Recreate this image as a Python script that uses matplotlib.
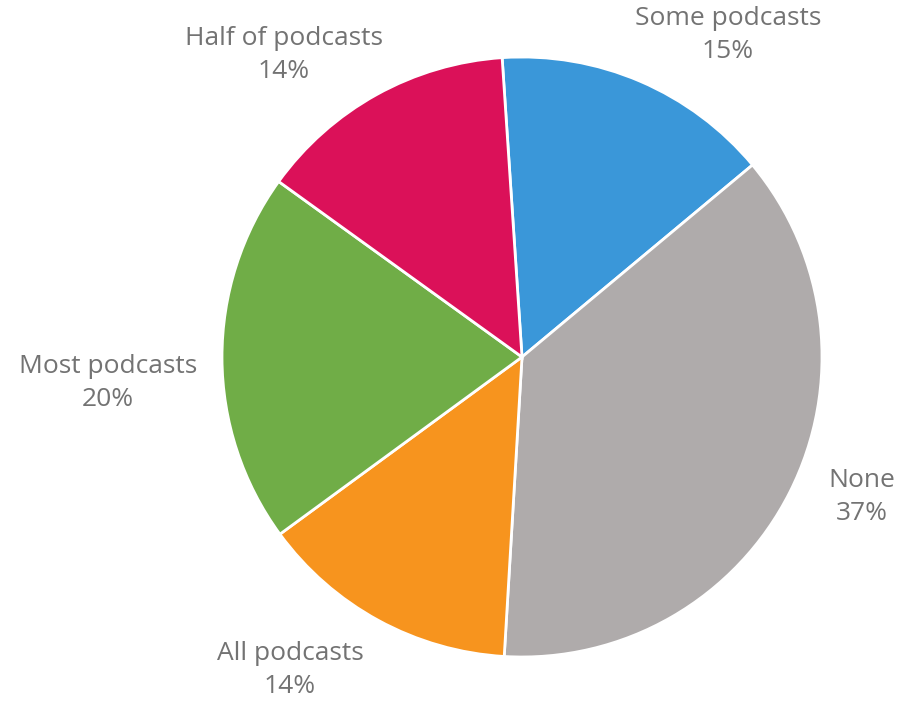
import numpy as np
import matplotlib
matplotlib.use("Agg")
import matplotlib.pyplot as plt

labels = ["Some podcasts", "None", "All podcasts", "Most podcasts", "Half of podcasts"]
values = [15, 37, 14, 20, 14]
colors = ["#3A97D9", "#AFABAB", "#F7941E", "#70AD47", "#DB1159"]

# label positions in pie-radius units (radius = 1)
label_pos = [(0.687, 1.073), (1.133, -0.467), (-0.773, -1.043), (-1.38, -0.087), (-0.793, 1.007)]

plt.rcParams['font.family'] = ['Open Sans', 'DejaVu Sans']

fig = plt.figure(figsize=(8.99, 7.03), dpi=100)
ax = fig.add_axes([0, 0, 1, 1])

ax.pie(values, colors=colors, startangle=93.8, counterclock=False, radius=1.0,
       wedgeprops=dict(edgecolor="white", linewidth=2))

for lab, v, (x, y) in zip(labels, values, label_pos):
    ax.text(x, y, f"{lab}\n{v}%", ha="center", va="center", fontsize=19,
            color="#737373", linespacing=1.42)

ax.set_xlim(-522 / 300, (899 - 522) / 300)
ax.set_ylim(-346 / 300, 357 / 300)
ax.set_aspect("equal")
ax.axis("off")

fig.savefig("out.png", dpi=100)
